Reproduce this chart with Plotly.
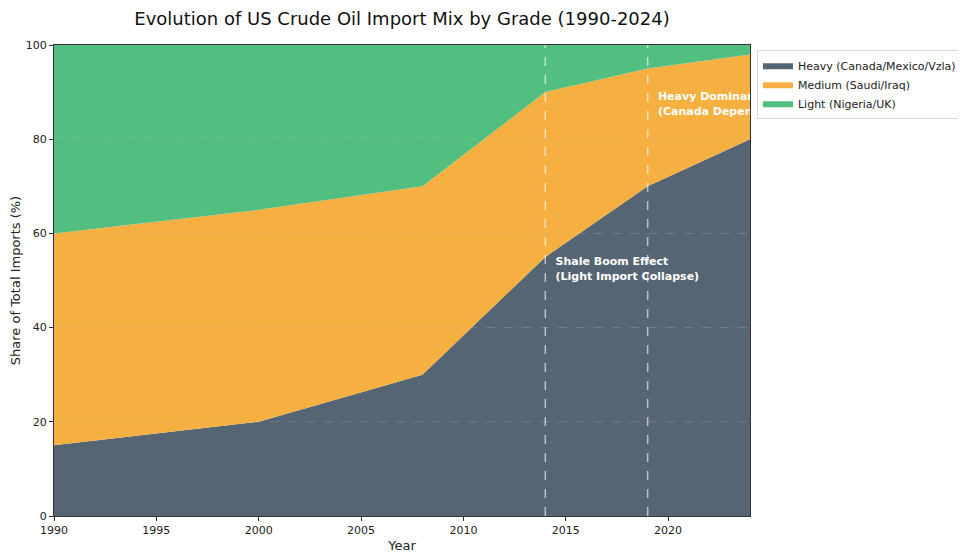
import plotly.graph_objects as go

# import mix by grade, share of total (%)
years = [1990, 2000, 2008, 2014, 2019, 2024]
heavy = [15, 20, 30, 55, 70, 80]
medium = [45, 45, 40, 35, 25, 18]
light = [40, 35, 30, 10, 5, 2]

series_names = ["Heavy (Canada/Mexico/Vzla)", "Medium (Saudi/Iraq)", "Light (Nigeria/UK)"]
series_colors = ["#566573", "#F5B041", "#52BE80"]

event_years = [2014, 2019]
note_x = [2014.5, 2019.5]
note_y = [55, 90]
note_text = ["Shale Boom Effect<br>(Light Import Collapse)",
             "Heavy Dominance<br>(Canada Dependence)"]

grid_vals = [20, 40, 60, 80]

FONT = "DejaVu Sans"

fig = go.Figure()

for name, vals, col in zip(series_names, [heavy, medium, light], series_colors):
    fig.add_trace(go.Scatter(
        x=years, y=vals, name=name,
        mode="lines", stackgroup="mix",
        line=dict(width=0, color=col),
        fillcolor=col,
        hoverinfo="skip",
    ))

# notes, clipped to the plot area like the original
fig.add_trace(go.Scatter(
    x=note_x, y=note_y, text=note_text,
    mode="text", textposition="bottom right",
    textfont=dict(family=FONT, size=11, color="white", weight="bold"),
    cliponaxis=True, showlegend=False, hoverinfo="skip",
))

shapes = []
for g in grid_vals:
    shapes.append(dict(type="line", xref="paper", x0=0, x1=1, yref="y", y0=g, y1=g,
                       line=dict(color="rgba(190,190,190,0.35)", width=0.8, dash="dash"),
                       layer="above"))
for yr in event_years:
    shapes.append(dict(type="line", xref="x", x0=yr, x1=yr, yref="paper", y0=0, y1=1,
                       line=dict(color="rgba(255,255,255,0.6)", width=1.5, dash="dash"),
                       layer="above"))

fig.update_layout(
    width=966, height=560,
    margin=dict(l=46, r=224, t=37, b=52),
    paper_bgcolor="white", plot_bgcolor="white",
    font=dict(family=FONT, size=11, color="#222"),
    title=dict(text="Evolution of US Crude Oil Import Mix by Grade (1990-2024)",
               x=394 / 966, xanchor="center", y=1 - 11 / 560, yanchor="middle",
               font=dict(size=18, color="#111")),
    legend=dict(x=1.01, y=0.99, xanchor="left", yanchor="top",
                bordercolor="#d8d8d8", borderwidth=1, bgcolor="white",
                font=dict(size=11), traceorder="normal", itemwidth=30,
                tracegroupgap=0),
    shapes=shapes,
    showlegend=True,
)

fig.update_xaxes(range=[1990, 2024], tickvals=list(range(1990, 2025, 5)),
                 showgrid=False, zeroline=False, automargin=False,
                 showline=True, mirror=True, linecolor="#333", linewidth=1,
                 ticks="outside", ticklen=4, tickcolor="#333",
                 tickfont=dict(size=11),
                 title=dict(text="Year", font=dict(size=13), standoff=4))
fig.update_yaxes(range=[0, 100], tickvals=[0, 20, 40, 60, 80, 100],
                 showgrid=False, zeroline=False, automargin=False,
                 showline=True, mirror=True, linecolor="#333", linewidth=1,
                 ticks="outside", ticklen=4, tickcolor="#333",
                 tickfont=dict(size=11),
                 title=dict(text="Share of Total Imports (%)", font=dict(size=13), standoff=9))

fig.write_html("out.html")
